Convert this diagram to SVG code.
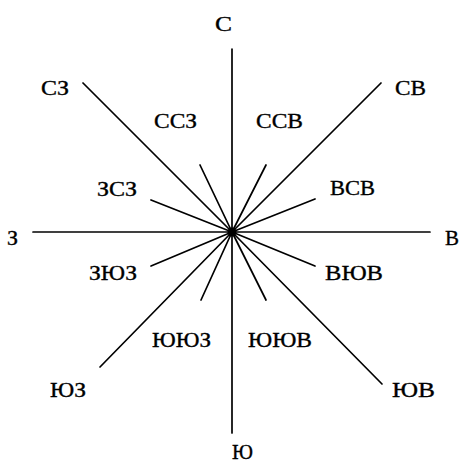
<svg xmlns="http://www.w3.org/2000/svg" width="461" height="465" viewBox="0 0 461 465">
<style>
.l{stroke:#000;stroke-width:1.7;fill:none;stroke-linecap:round}
text{font-family:"Liberation Serif","Times New Roman",serif;font-size:22px;fill:#000;stroke:#000;stroke-width:0.35}
</style>
<rect width="461" height="465" fill="#fff"/>
<g id="connectors">
<line class="l" x1="232" y1="49" x2="232" y2="433"/>
<line class="l" x1="33" y1="232" x2="430" y2="232"/>
<line class="l" x1="83" y1="83" x2="232" y2="232"/>
<line class="l" x1="381" y1="83" x2="232" y2="232"/>
<line class="l" x1="100" y1="367" x2="232" y2="232"/>
<line class="l" x1="382" y1="384" x2="232" y2="232"/>
<line class="l" x1="200" y1="165" x2="232" y2="232"/>
<line class="l" x1="266" y1="165" x2="232" y2="232"/>
<line class="l" x1="151" y1="200" x2="232" y2="232"/>
<line class="l" x1="315" y1="199" x2="232" y2="232"/>
<line class="l" x1="151" y1="266" x2="232" y2="232"/>
<line class="l" x1="315" y1="266" x2="232" y2="232"/>
<line class="l" x1="201" y1="300" x2="232" y2="232"/>
<line class="l" x1="266" y1="300" x2="232" y2="232"/>
</g>
<g id="center"><circle cx="232" cy="232" r="4.5" fill="#000"/></g>
<g id="n"><text x="215" y="31" textLength="17" lengthAdjust="spacingAndGlyphs">С</text></g>
<g id="nw"><text x="41" y="95" textLength="28" lengthAdjust="spacingAndGlyphs">СЗ</text></g>
<g id="ne"><text x="395" y="95" textLength="31" lengthAdjust="spacingAndGlyphs">СВ</text></g>
<g id="nnw"><text x="154" y="128" textLength="43" lengthAdjust="spacingAndGlyphs">ССЗ</text></g>
<g id="nne"><text x="256" y="128" textLength="47" lengthAdjust="spacingAndGlyphs">ССВ</text></g>
<g id="wnw"><text x="97" y="196" textLength="40" lengthAdjust="spacingAndGlyphs">ЗСЗ</text></g>
<g id="ene"><text x="330" y="195" textLength="45" lengthAdjust="spacingAndGlyphs">ВСВ</text></g>
<g id="w"><text x="7" y="245" textLength="11" lengthAdjust="spacingAndGlyphs">З</text></g>
<g id="e"><text x="445" y="245" textLength="14" lengthAdjust="spacingAndGlyphs">В</text></g>
<g id="wsw"><text x="89" y="280" textLength="48" lengthAdjust="spacingAndGlyphs">ЗЮЗ</text></g>
<g id="ese"><text x="325" y="280" textLength="58" lengthAdjust="spacingAndGlyphs">ВЮВ</text></g>
<g id="ssw"><text x="152" y="347" textLength="59" lengthAdjust="spacingAndGlyphs">ЮЮЗ</text></g>
<g id="sse"><text x="248" y="347" textLength="64" lengthAdjust="spacingAndGlyphs">ЮЮВ</text></g>
<g id="sw"><text x="50" y="397" textLength="36" lengthAdjust="spacingAndGlyphs">ЮЗ</text></g>
<g id="se"><text x="392" y="397" textLength="43" lengthAdjust="spacingAndGlyphs">ЮВ</text></g>
<g id="s"><text x="232" y="459" textLength="21" lengthAdjust="spacingAndGlyphs">Ю</text></g>
</svg>
